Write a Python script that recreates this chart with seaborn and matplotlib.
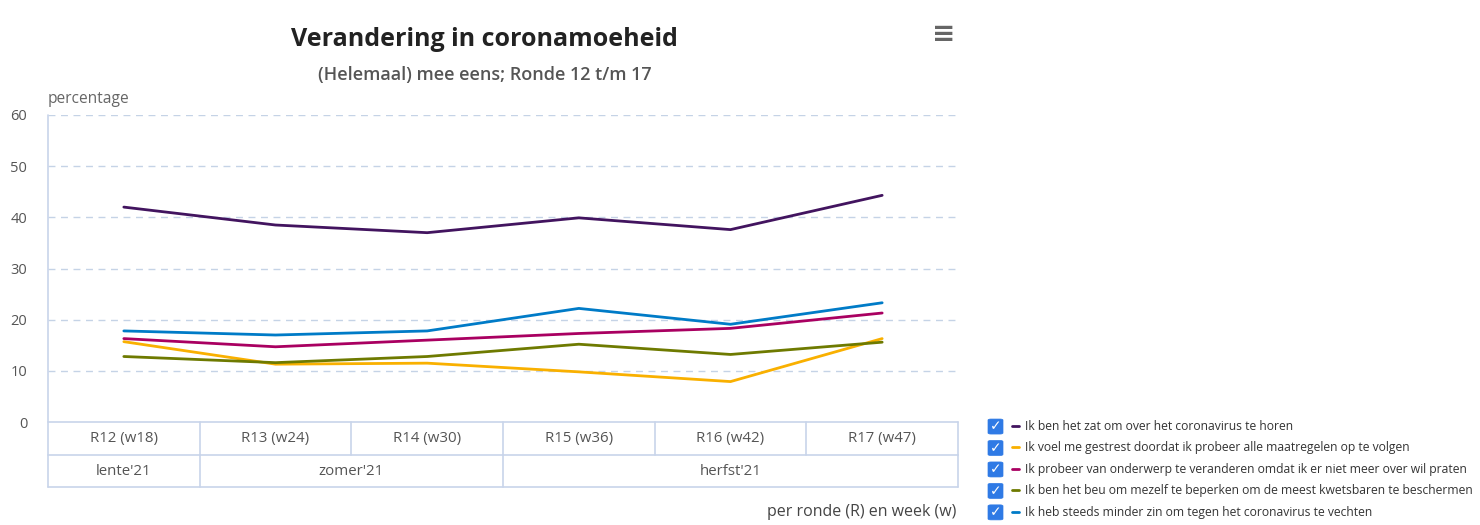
import numpy as np
import pandas as pd
import matplotlib
matplotlib.use("Agg")
import matplotlib.pyplot as plt
from matplotlib.patches import FancyBboxPatch
from matplotlib.lines import Line2D
import seaborn as sns

# ---------------- data ----------------
rounds = ["R12 (w18)", "R13 (w24)", "R14 (w30)", "R15 (w36)", "R16 (w42)", "R17 (w47)"]
seasons = ["lente'21", "zomer'21", "herfst'21"]
season_counts = [1, 2, 3]  # number of rounds per season

series_names = [
    "Ik ben het zat om over het coronavirus te horen",
    "Ik voel me gestrest doordat ik probeer alle maatregelen op te volgen",
    "Ik probeer van onderwerp te veranderen omdat ik er niet meer over wil praten",
    "Ik ben het beu om mezelf te beperken om de meest kwetsbaren te beschermen",
    "Ik heb steeds minder zin om tegen het coronavirus te vechten",
]
zat = [42.0, 38.5, 37.0, 39.9, 37.6, 44.3]
gestrest = [15.7, 11.3, 11.5, 9.8, 7.9, 16.3]
onderwerp = [16.3, 14.7, 16.0, 17.3, 18.3, 21.3]
beu = [12.8, 11.6, 12.8, 15.2, 13.2, 15.6]
minder_zin = [17.8, 17.0, 17.8, 22.2, 19.1, 23.3]
series_values = [zat, gestrest, onderwerp, beu, minder_zin]
colors = ["#42145f", "#f9b000", "#a90061", "#6e7a00", "#007bc7"]

y_ticks = [0, 10, 20, 30, 40, 50, 60]

title = "Verandering in coronamoeheid"
subtitle = "(Helemaal) mee eens; Ronde 12 t/m 17"
y_label = "percentage"
x_label = "per ronde (R) en week (w)"

# ---------------- styling ----------------
sns.set_theme(style="white")
plt.rcParams["font.family"] = ["Open Sans", "DejaVu Sans"]

W, H = 1480, 525
fig = plt.figure(figsize=(W / 100, H / 100), dpi=100)
fig.patch.set_facecolor("white")

def fx(px):
    return px / W

def fy(py):
    return 1 - py / H

ax_l, ax_r, ax_t, ax_b = 48, 958, 115, 422
ax = fig.add_axes([fx(ax_l), fy(ax_b), fx(ax_r - ax_l), (ax_b - ax_t) / H])

rows = []
for name, vals in zip(series_names, series_values):
    for r, v in zip(rounds, vals):
        rows.append({"ronde": r, "reeks": name, "percentage": v})
df = pd.DataFrame(rows)

sns.lineplot(data=df, x="ronde", y="percentage", hue="reeks",
             hue_order=series_names, palette=colors, sort=False,
             linewidth=2.0, ax=ax, legend=True)

ax.set_xlim(-0.5, len(rounds) - 0.5)
ax.set_ylim(0, 60)
ax.set_yticks(y_ticks)
ax.set_yticklabels([str(t) for t in y_ticks], fontsize=10.5, color="#555555")
ax.tick_params(axis="y", length=0, pad=15)
ax.set_xticks([])
ax.set_xlabel("")
ax.set_ylabel("")
for s in ax.spines.values():
    s.set_visible(False)

grid_col = "#c5d3e6"
for t in y_ticks[1:]:
    ax.axhline(t, color=grid_col, lw=1.0, ls=(0, (5, 4)), zorder=0)

# ---------------- category "table" below the axis ----------------
tcol = "#c8d4ea"
ax_h = ax_b - ax_t
r1 = -(455 - ax_b) / ax_h
r2 = -(487 - ax_b) / ax_h
n = len(rounds)
trans = ax.get_xaxis_transform()
kw = dict(color=tcol, lw=1.2, clip_on=False, transform=trans)
for yy in [0, r1, r2]:
    ax.add_line(Line2D([-0.5, n - 0.5], [yy, yy], **kw))
# left axis line
ax.add_line(Line2D([-0.5, -0.5], [1, r2], **kw))
for i in range(n):
    ax.add_line(Line2D([i + 0.5, i + 0.5], [0, r1], **kw))
    ax.text(i, r1 / 2, rounds[i], transform=trans, ha="center", va="center",
            fontsize=10.8, color="#555555")
start = 0
for s_name, cnt in zip(seasons, season_counts):
    end = start + cnt
    ax.add_line(Line2D([end - 0.5, end - 0.5], [r1, r2], **kw))
    ax.text((start + end - 1) / 2, (r1 + r2) / 2, s_name, transform=trans,
            ha="center", va="center", fontsize=10.8, color="#555555")
    start = end

# ---------------- titles ----------------
fig.text(fx(484), fy(39), title, ha="center", va="center", fontsize=18,
         fontweight="bold", color="#222222")
fig.text(fx(485), fy(75), subtitle, ha="center", va="center", fontsize=13,
         fontweight="semibold", color="#555555")
fig.text(fx(48), fy(99), y_label, ha="left", va="center", fontsize=11.2,
         color="#666666")
fig.text(fx(956), fy(512), x_label, ha="right", va="center", fontsize=11.5,
         color="#444444")
fig.text(fx(944), fy(34), "\u2261", ha="center", va="center", fontsize=20,
         color="#666666", family="DejaVu Sans", fontweight="bold")

# ---------------- legend ----------------
handles, labels = ax.get_legend_handles_labels()
ax.get_legend().remove()
leg = fig.legend(handles, labels, loc="upper left",
                 bbox_to_anchor=(fx(1006), fy(414)), frameon=False,
                 fontsize=8.7, handlelength=0.6, handletextpad=0.45,
                 labelspacing=0.70, borderpad=0.0, labelcolor="#333333")
for h in leg.legend_handles:
    h.set_linewidth(2)

fig.canvas.draw()
renderer = fig.canvas.get_renderer()
for txt in leg.get_texts():
    bb = txt.get_window_extent(renderer)
    cy = (bb.y0 + bb.y1) / 2
    size = 15
    x0 = 988
    box = FancyBboxPatch((fx(x0), cy / H - size / 2 / H), fx(size), size / H,
                         boxstyle="round,pad=0,rounding_size=0.002",
                         transform=fig.transFigure, facecolor="#2f7ae5",
                         edgecolor="#2f7ae5", lw=0.5)
    fig.add_artist(box)
    fig.text(fx(x0 + size / 2), cy / H, "\u2713", ha="center", va="center",
             fontsize=10, color="white", fontweight="bold", family="DejaVu Sans")

fig.savefig("out.png", dpi=100, facecolor="white")
